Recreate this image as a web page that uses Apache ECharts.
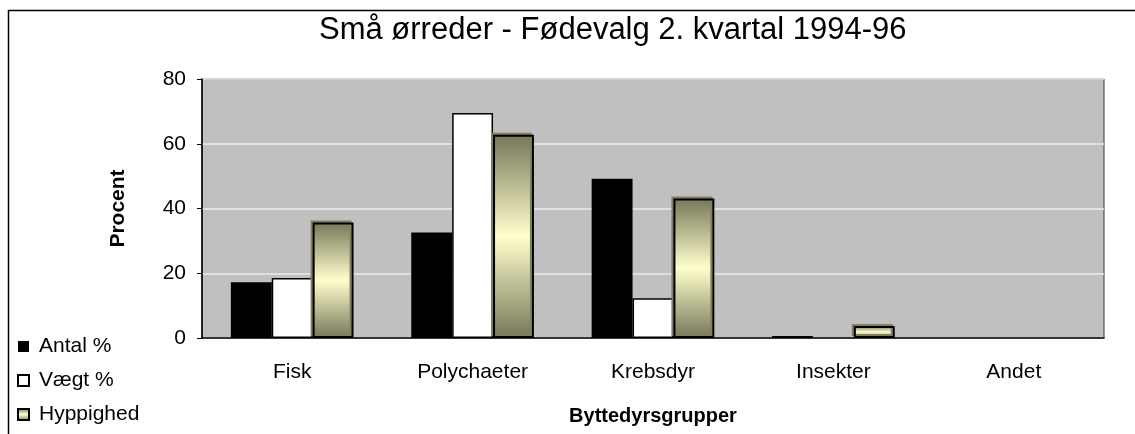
<!DOCTYPE html>
<html>
<head>
<meta charset="utf-8">
<title>Små ørreder - Fødevalg</title>
<script src="https://cdn.jsdelivr.net/npm/echarts@6/dist/echarts.min.js"></script>
<style>
    html, body { margin: 0; padding: 0; background: #fff; }
    #bar_food { width: 1135px; height: 434px; }
</style>
</head>
<body>
<div id="bar_food"></div>
<script>

// Chart data
// ------------------------------

var categories = ['Fisk', 'Polychaeter', 'Krebsdyr', 'Insekter', 'Andet'];
var antal = [17.2, 32.6, 49.2, 0.6, 0];
var vaegt = [18.5, 69.5, 12.3, 0, 0];
var hyppighed = [35.7, 62.8, 43.1, 3.7, 0];
var yTicks = [0, 20, 40, 60, 80];


// Setup module
// ------------------------------

var EchartsBarFood = function() {

    // Zero values are left out so no outline is drawn on the baseline
    var skipZero = function(list) {
        return list.map(function(v) { return v === 0 ? '-' : v; });
    };

    var _barFood = function() {
        if (typeof echarts == 'undefined') {
            console.warn('Warning - echarts.min.js is not loaded.');
            return;
        }

        var bar_food_element = document.getElementById('bar_food');
        if (!bar_food_element) return;

        var bar_food = echarts.init(bar_food_element);

        var font = 'Arial, "Liberation Sans", sans-serif';

        // Olive gradient used by "Hyppighed"
        var olive = new echarts.graphic.LinearGradient(0, 0, 0, 1, [
            { offset: 0, color: '#77775a' },
            { offset: 0.5, color: '#ffffcc' },
            { offset: 1, color: '#77775a' }
        ]);

        bar_food.setOption({

            animation: false,

            textStyle: {
                fontFamily: font
            },

            // Outer frame
            graphic: [{
                type: 'rect',
                left: 6,
                top: 8,
                shape: { width: 1200, height: 500 },
                style: { fill: 'none', stroke: '#000', lineWidth: 1.5 },
                silent: true
            }],

            title: {
                text: 'Små ørreder - Fødevalg 2. kvartal 1994-96',
                left: 319,
                top: 15,
                padding: 0,
                textStyle: {
                    fontFamily: font,
                    fontSize: 31,
                    fontWeight: 'normal',
                    color: '#000'
                }
            },

            legend: {
                orient: 'vertical',
                left: 17,
                top: 336,
                icon: 'rect',
                itemWidth: 11,
                itemHeight: 11,
                itemGap: 13,
                padding: 0,
                textStyle: {
                    fontFamily: font,
                    fontSize: 21,
                    color: '#000',
                    padding: [0, 0, 0, 5]
                },
                data: ['Antal %', 'Vægt %', 'Hyppighed']
            },

            grid: {
                left: 202,
                top: 79,
                right: 31,
                bottom: 96,
                show: true,
                backgroundColor: '#c0c0c0',
                borderColor: '#333',
                borderWidth: 1
            },

            xAxis: [{
                type: 'category',
                data: categories,
                name: 'Byttedyrsgrupper',
                nameLocation: 'middle',
                nameGap: 68,
                nameTextStyle: {
                    fontFamily: font,
                    fontSize: 20,
                    fontWeight: 'bold',
                    color: '#000'
                },
                axisLine: {
                    lineStyle: { color: '#000', width: 1.5 }
                },
                axisTick: {
                    length: 6,
                    lineStyle: { color: '#000' }
                },
                axisLabel: {
                    margin: 24,
                    fontSize: 21,
                    color: '#000'
                }
            }],

            yAxis: [{
                type: 'value',
                min: yTicks[0],
                max: yTicks[yTicks.length - 1],
                interval: 20,
                name: 'Procent',
                nameLocation: 'middle',
                nameGap: 73,
                nameTextStyle: {
                    fontFamily: font,
                    fontSize: 21,
                    fontWeight: 'bold',
                    color: '#000'
                },
                axisLine: {
                    show: true,
                    lineStyle: { color: '#000', width: 1.5 }
                },
                axisTick: {
                    show: true,
                    length: 5,
                    lineStyle: { color: '#000' }
                },
                axisLabel: {
                    margin: 16,
                    fontSize: 21,
                    color: '#000'
                },
                splitLine: {
                    lineStyle: { color: '#ececec', width: 1.5 }
                }
            }],

            series: [
                {
                    name: 'Antal %',
                    type: 'bar',
                    data: skipZero(antal),
                    barGap: 0,
                    barCategoryGap: '32%',
                    itemStyle: {
                        color: '#000'
                    }
                },
                {
                    name: 'Vægt %',
                    type: 'bar',
                    data: skipZero(vaegt),
                    barGap: 0,
                    barCategoryGap: '32%',
                    itemStyle: {
                        color: '#fff',
                        borderColor: '#000',
                        borderWidth: 1.5
                    }
                },
                {
                    name: 'Hyppighed',
                    type: 'bar',
                    data: skipZero(hyppighed),
                    barGap: 0,
                    barCategoryGap: '32%',
                    itemStyle: {
                        color: olive,
                        borderColor: '#000',
                        borderWidth: 2,
                        shadowColor: '#7f7f62',
                        shadowBlur: 0,
                        shadowOffsetX: -2,
                        shadowOffsetY: -2
                    }
                }
            ]
        });
    };

    return {
        init: function() {
            _barFood();
        }
    }
}();


// Initialize module
// ------------------------------

document.addEventListener('DOMContentLoaded', function() {
    EchartsBarFood.init();
});
</script>
</body>
</html>
